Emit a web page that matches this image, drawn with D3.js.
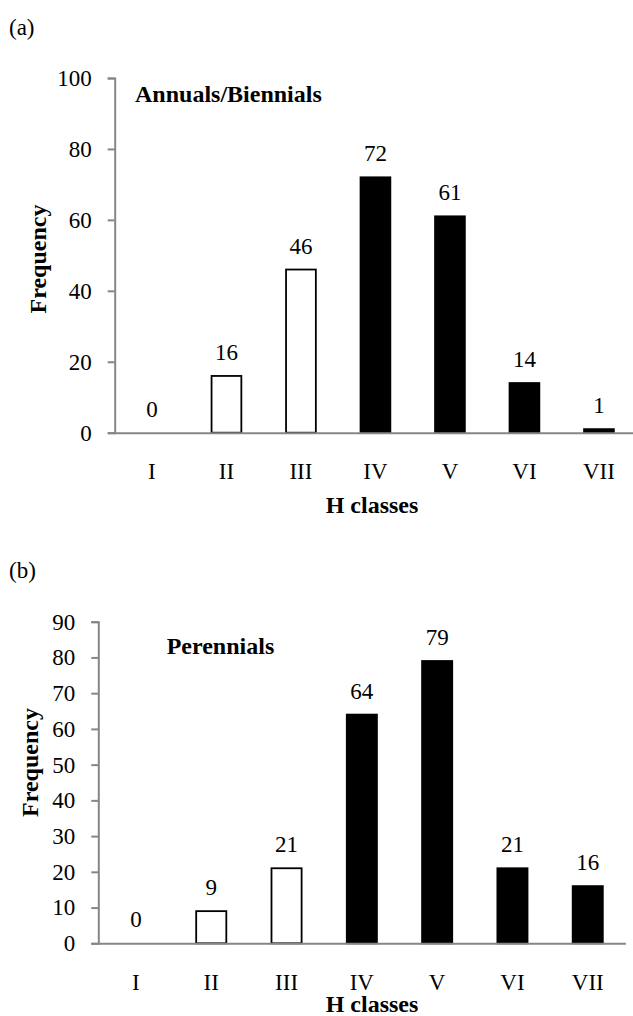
<!DOCTYPE html>
<html>
<head>
<meta charset="utf-8">
<script src="https://cdn.jsdelivr.net/npm/d3@7"></script>
<style>
  html, body { margin: 0; padding: 0; background: #fff; }
  svg { display: block; }
</style>
</head>
<body>
<div id="chart"></div>
<script>
// H classes on the x axis
var classes = ["I", "II", "III", "IV", "V", "VI", "VII"];
// frequencies, panel (a) and (b)
var annuals = [0, 16, 46, 72, 61, 14, 1];
var perennials = [0, 9, 21, 64, 79, 21, 16];
// open bars for the low classes, filled for the rest
var openBars = ["I", "II", "III"];
var ticksA = [0, 20, 40, 60, 80, 100];
var ticksB = [0, 10, 20, 30, 40, 50, 60, 70, 80, 90];

var FONT = "'Liberation Serif', 'Times New Roman', serif";
var W = 633, H = 1016;
var svg = d3.select("#chart").append("svg")
  .attr("width", W)
  .attr("height", H)
  .style("font-family", FONT);

function txt(sel, size, bold) {
  return sel.style("font-family", FONT)
    .style("font-size", size + "px")
    .style("font-weight", bold ? "bold" : "normal")
    .attr("fill", "#000");
}

function panel(opt) {
  var g = svg.append("g");

  var x = d3.scaleBand()
    .domain(classes)
    .range([opt.left, opt.right])
    .paddingInner(0.6)
    .paddingOuter(0.3);

  var y = d3.scaleLinear()
    .domain([0, opt.max])
    .range([opt.bottom, opt.top]);

  // panel letter
  txt(g.append("text")
    .attr("x", 9)
    .attr("y", opt.letterY)
    .text(opt.letter), 23);

  // bars
  g.selectAll("rect.bar")
    .data(opt.values.map(function(v, i) { return {c: classes[i], v: v}; }).filter(function(d) { return d.v > 0; }))
    .enter().append("rect")
    .attr("class", "bar")
    .attr("x", function(d) { return x(d.c); })
    .attr("y", function(d) { return y(d.v); })
    .attr("width", x.bandwidth())
    .attr("height", function(d) { return y(0) - y(d.v); })
    .attr("fill", function(d) { return openBars.indexOf(d.c) >= 0 ? "#fff" : "#000"; })
    .attr("stroke", "#000")
    .attr("stroke-width", 1.8);

  // y axis
  var yAxis = g.append("g")
    .attr("transform", "translate(" + opt.left + ",0)")
    .call(d3.axisLeft(y).tickValues(opt.ticks).tickSize(7).tickPadding(16));
  yAxis.attr("font-family", null).attr("font-size", null);
  yAxis.select(".domain").attr("stroke", "#868686").attr("stroke-width", 2);
  yAxis.selectAll(".tick line").attr("stroke", "#868686").attr("stroke-width", 2);
  txt(yAxis.selectAll(".tick text"), 23);

  // x axis
  var xAxis = g.append("g")
    .attr("transform", "translate(0," + opt.bottom + ")")
    .call(d3.axisBottom(x).tickSize(0).tickPadding(30));
  xAxis.attr("font-family", null).attr("font-size", null);
  xAxis.select(".domain").attr("stroke", "#868686").attr("stroke-width", 2);
  txt(xAxis.selectAll(".tick text"), 23);

  // value labels
  txt(g.selectAll("text.val")
    .data(opt.values)
    .enter().append("text")
    .attr("class", "val")
    .attr("x", function(d, i) { return x(classes[i]) + x.bandwidth() / 2; })
    .attr("y", function(d) { return y(d) - 16; })
    .attr("text-anchor", "middle")
    .text(function(d) { return d; }), 23);

  // series name inside the plot
  txt(g.append("text")
    .attr("x", opt.nameX)
    .attr("y", opt.nameY)
    .text(opt.name), 24, true);

  // axis titles
  txt(g.append("text")
    .attr("transform", "translate(" + opt.ytitleX + "," + opt.ytitleY + ") rotate(-90)")
    .attr("text-anchor", "middle")
    .text("Frequency"), 24, true);

  txt(g.append("text")
    .attr("x", 372)
    .attr("y", opt.xtitleY)
    .attr("text-anchor", "middle")
    .text("H classes"), 24, true);
}

panel({
  letter: "(a)", letterY: 35,
  values: annuals, max: 100, ticks: ticksA,
  left: 114.7, right: 636.2, top: 78, bottom: 432.7,
  name: "Annuals/Biennials", nameX: 135, nameY: 101.5,
  ytitleX: 46, ytitleY: 259, xtitleY: 513
});

panel({
  letter: "(b)", letterY: 578,
  values: perennials, max: 90, ticks: ticksB,
  left: 98.3, right: 625.4, top: 621.7, bottom: 943.3,
  name: "Perennials", nameX: 166.7, nameY: 654,
  ytitleX: 38, ytitleY: 762.5, xtitleY: 1012
});
</script>
</body>
</html>
